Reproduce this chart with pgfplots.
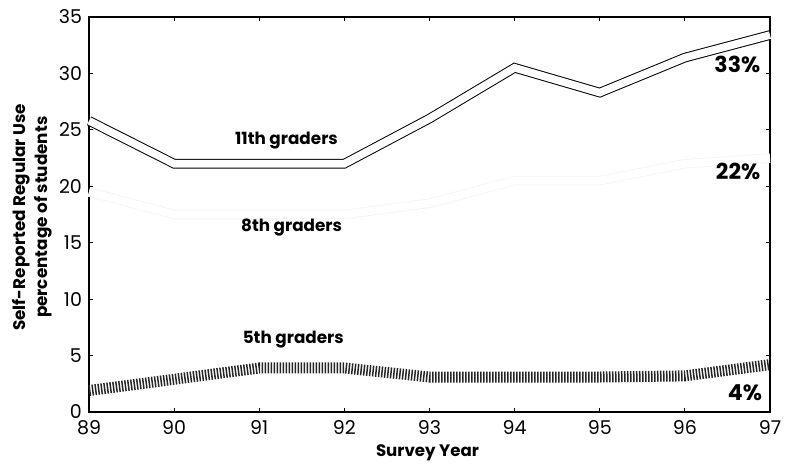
\documentclass[border=0pt]{standalone}
\usepackage{pgfplots}
\pgfplotsset{compat=1.18}
\usepackage{fontspec}
\setmainfont{Poppins}
\begin{document}
\begin{tikzpicture}
\begin{axis}[
  scale only axis,
  width=340.5pt, height=197.5pt,
  xmin=89, xmax=97, ymin=0, ymax=35,
  xtick={89,...,97}, ytick={0,5,...,35},
  tick align=inside, major tick length=2pt,
  tick style={black, line width=0.4pt},
  axis line style={black, line width=1pt},
  /pgf/number format/assume math mode=true,
  ticklabel style={font=\fontsize{9.5}{11}\selectfont},
  xticklabel style={yshift=-0.5pt},
  xlabel={Survey Year},
  xlabel style={font=\fontsize{8.3}{10}\selectfont\bfseries, at={(axis description cs:0.497,-0.103)}, anchor=center},
  clip=false,
]
% 8th graders (faded in the scan)
\addplot[black!4, line width=4.8pt] coordinates {(89,19.5) (90,17.5) (91,17.5) (92,17.5) (93,18.5) (94,20.5) (95,20.5) (96,22) (97,22.5)};
\addplot[white, line width=3.8pt] coordinates {(89,19.5) (90,17.5) (91,17.5) (92,17.5) (93,18.5) (94,20.5) (95,20.5) (96,22) (97,22.5)};
% 11th graders double line
\addplot[black, line width=4.8pt] coordinates {(89,25.8) (90,22.0) (91,22.0) (92,22.0) (93,26.0) (94,30.5) (95,28.3) (96,31.4) (97,33.4)};
\addplot[white, line width=3.8pt] coordinates {(89,25.8) (90,22.0) (91,22.0) (92,22.0) (93,26.0) (94,30.5) (95,28.3) (96,31.4) (97,33.4)};
% 5th graders hatched band
\addplot[black!85, line width=5.5pt, dash pattern=on 0.75pt off 0.75pt] coordinates {(89,1.9) (90,2.9) (91,3.9) (92,3.9) (93,3.1) (94,3.1) (95,3.1) (96,3.2) (97,4.2)};
\node[font=\fontsize{8.4}{10}\selectfont\bfseries] at (axis cs:91.32,24.05) {11th graders};
\node[font=\fontsize{8.4}{10}\selectfont\bfseries] at (axis cs:91.38,16.3) {8th graders};
\node[font=\fontsize{8.4}{10}\selectfont\bfseries] at (axis cs:91.40,6.4) {5th graders};
\node[font=\fontsize{11}{13}\selectfont\bfseries, anchor=east, inner sep=0pt] at (axis cs:96.89,30.8) {33\%};
\node[font=\fontsize{11}{13}\selectfont\bfseries, anchor=east, inner sep=0pt] at (axis cs:96.89,21.3) {22\%};
\node[font=\fontsize{11}{13}\selectfont\bfseries, anchor=east, inner sep=0pt] at (axis cs:96.91,1.7) {4\%};
\node[font=\fontsize{8.4}{10}\selectfont\bfseries, rotate=90, anchor=center, inner sep=0pt] at (axis description cs:-0.0991,0.493) {Self-Reported Regular Use};
\node[font=\fontsize{8.4}{10}\selectfont\bfseries, rotate=90, anchor=center, inner sep=0pt] at (axis description cs:-0.0675,0.493) {percentage of students};
\end{axis}
\pgfresetboundingbox
\path[use as bounding box] (-44.5pt,-26.5pt) rectangle (349.5pt,206pt);
\end{tikzpicture}
\end{document}
